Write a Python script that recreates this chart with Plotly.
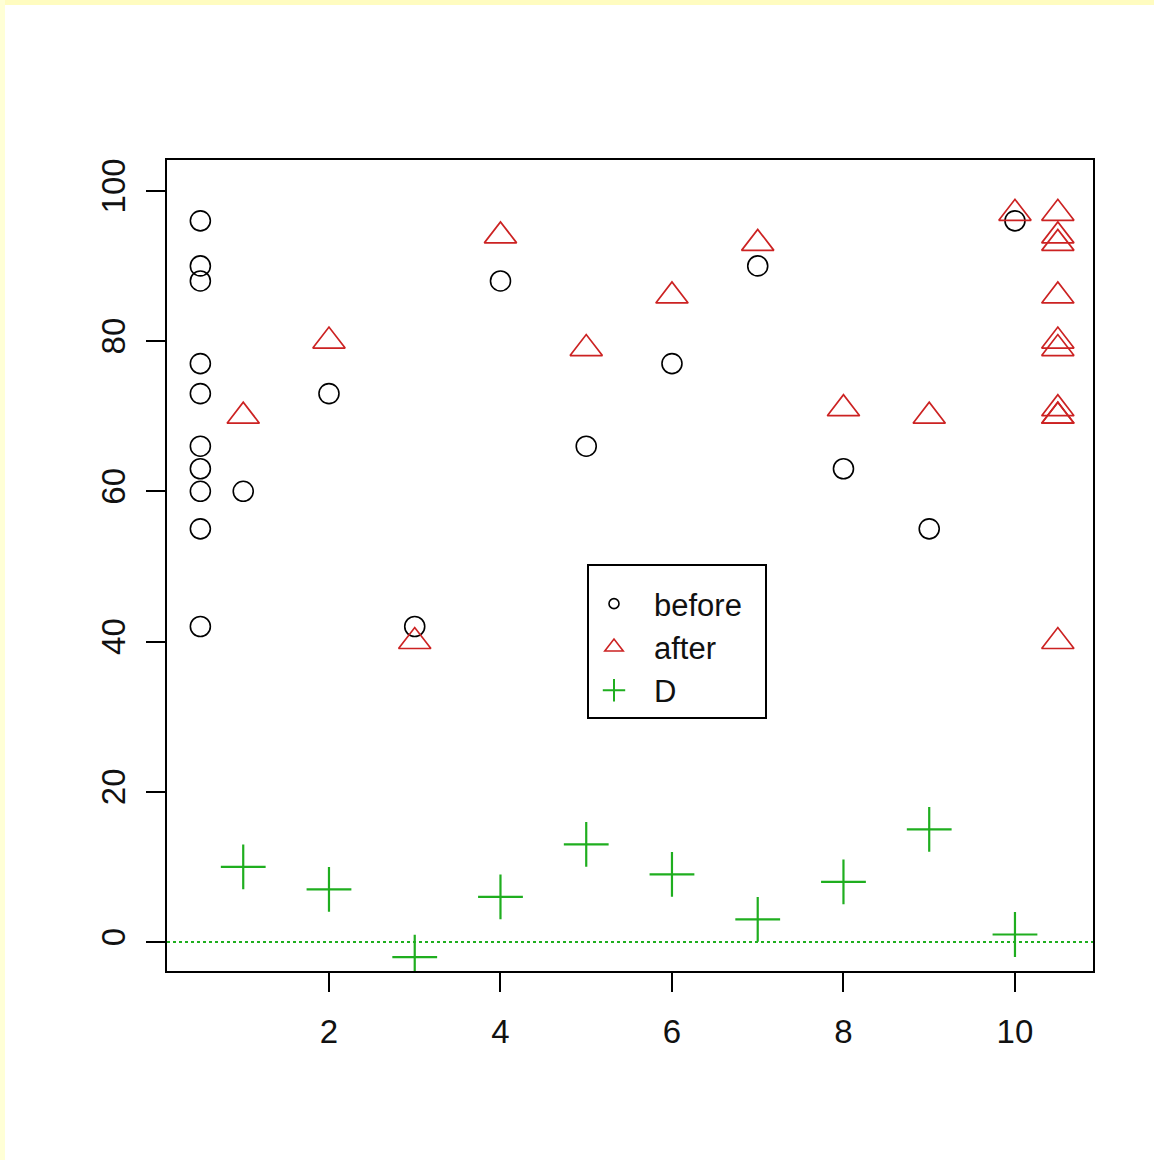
import plotly.graph_objects as go

# ---- data ----
subjects = [1, 2, 3, 4, 5, 6, 7, 8, 9, 10]
before = [60, 73, 42, 88, 66, 77, 90, 63, 55, 96]
after = [70, 80, 40, 94, 79, 86, 93, 71, 70, 97]
D = [a - b for a, b in zip(after, before)]
x_ticks = [2, 4, 6, 8, 10]
y_ticks = [0, 20, 40, 60, 80, 100]
rug_left = 0.5
rug_right = 10.5

RED = "#cc2222"
GREEN = "#1fae1f"
BLACK = "#000000"

W, H = 1154, 1160
L, R_, T, B = 167, 1093, 160, 971
fig = go.Figure()

# main points
fig.add_trace(go.Scatter(x=subjects, y=before, mode="markers", showlegend=False,
                         marker=dict(symbol="circle-open", size=20, color=BLACK, line=dict(width=1.6))))
fig.add_trace(go.Scatter(x=subjects, y=after, mode="markers", showlegend=False,
                         marker=dict(symbol="triangle-up-open", size=28, color=RED, line=dict(width=1.7))))
fig.add_trace(go.Scatter(x=subjects, y=D, mode="markers", showlegend=False,
                         marker=dict(symbol="cross-thin-open", size=32, color=GREEN, line=dict(width=2.2))))
# marginal strips
fig.add_trace(go.Scatter(x=[rug_left] * len(before), y=before, mode="markers", showlegend=False,
                         marker=dict(symbol="circle-open", size=20, color=BLACK, line=dict(width=1.6))))
fig.add_trace(go.Scatter(x=[rug_right] * len(after), y=after, mode="markers", showlegend=False,
                         marker=dict(symbol="triangle-up-open", size=28, color=RED, line=dict(width=1.7))))

# legend entries
fig.add_trace(go.Scatter(x=[None], y=[None], mode="markers", name="before",
                         marker=dict(symbol="circle-open", size=10, color=BLACK, line=dict(width=1.6))))
fig.add_trace(go.Scatter(x=[None], y=[None], mode="markers", name="after",
                         marker=dict(symbol="triangle-up-open", size=16, color=RED, line=dict(width=1.6))))
fig.add_trace(go.Scatter(x=[None], y=[None], mode="markers", name="D",
                         marker=dict(symbol="cross-thin-open", size=16, color=GREEN, line=dict(width=2))))

# zero reference line
fig.add_hline(y=0, line=dict(color=GREEN, width=2, dash="dot"))

def px_x(p):
    return (p - L) / (R_ - L)

def px_y(p):
    return (B - p) / (B - T)

# yellow page frame
fig.add_shape(type="rect", xref="paper", yref="paper", x0=px_x(0), x1=px_x(W), y0=px_y(5), y1=px_y(0),
              fillcolor="#fffcc0", line=dict(width=0), layer="below")
fig.add_shape(type="rect", xref="paper", yref="paper", x0=px_x(0), x1=px_x(5), y0=px_y(H), y1=px_y(0),
              fillcolor="#ffffd6", line=dict(width=0), layer="below")
# legend frame
fig.add_shape(type="rect", xref="paper", yref="paper", x0=px_x(588), x1=px_x(766), y0=px_y(718), y1=px_y(565),
              fillcolor="white", line=dict(color=BLACK, width=2), layer="above")

axis_common = dict(showgrid=False, zeroline=False, showline=True, mirror=True, linecolor=BLACK,
                   linewidth=2, ticks="outside", ticklen=19, tickwidth=2, tickcolor=BLACK,
                   tickfont=dict(family="Liberation Sans, Arial, sans-serif", size=33, color="#111111"))

fig.update_layout(
    width=W, height=H,
    margin=dict(l=L, r=W - R_, t=T, b=H - B),
    paper_bgcolor="white", plot_bgcolor="white",
    xaxis=dict(range=[0.111, 10.91], tickvals=x_ticks, ticktext=[str(v) for v in x_ticks],
               ticklabelstandoff=11, **axis_common),
    yaxis=dict(range=[-3.86, 104.1], tickvals=y_ticks, ticktext=[str(v) for v in y_ticks],
               tickangle=-90, ticklabelstandoff=8, **axis_common),
    legend=dict(x=px_x(574), y=px_y(577), xanchor="left", yanchor="top",
                borderwidth=0, bgcolor="rgba(0,0,0,0)", itemwidth=70,
                font=dict(family="Liberation Sans, Arial, sans-serif", size=31, color="#111111"),
                itemsizing="trace"),
)

fig.write_html("out.html", config={"displayModeBar": False},
               post_script="document.body.style.margin='0';")
